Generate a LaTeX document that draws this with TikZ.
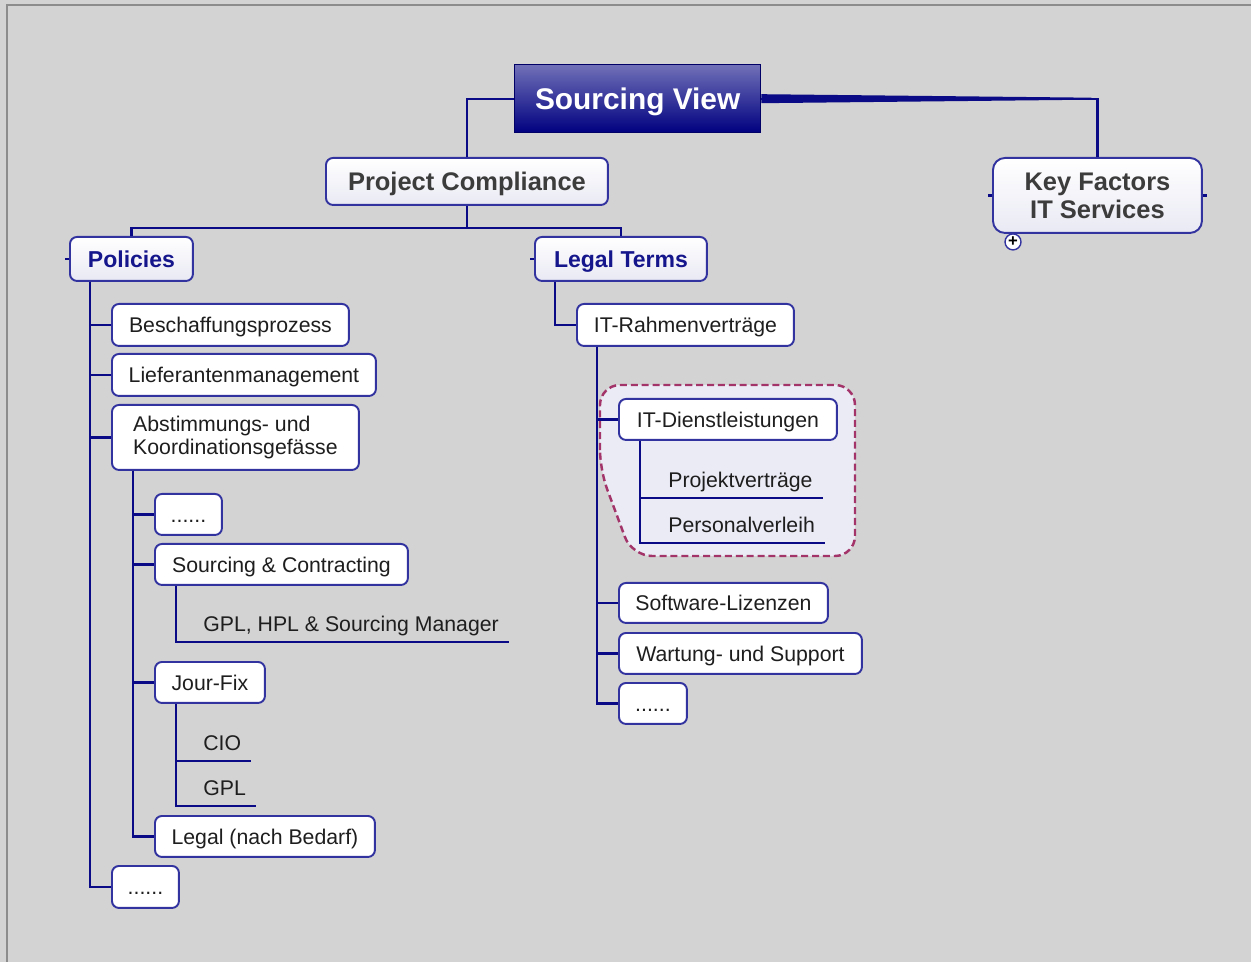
\documentclass[tikz,border=0pt]{standalone}
\usepackage{fontspec}
\setmainfont{Liberation Sans}
\definecolor{bggray}{HTML}{D3D3D3}
\definecolor{framegray}{HTML}{8C8C8C}
\definecolor{linenavy}{HTML}{0A0A86}
\definecolor{boxblue}{HTML}{3333A0}
\definecolor{boxfill}{HTML}{E9E9F4}
\definecolor{txtgray}{HTML}{1E1E1E}
\definecolor{titlegray}{HTML}{3C3C3C}
\definecolor{headnavy}{HTML}{16168C}
\definecolor{svtop}{HTML}{7070B8}
\definecolor{svnavy}{HTML}{000080}
\definecolor{grpline}{HTML}{A3346A}
\definecolor{grpfill}{HTML}{EBEBF5}
\begin{document}
\begin{tikzpicture}[x=0.02cm, y=-0.02cm,
		conn/.style={draw=linenavy, line width=1.6pt},
		midconn/.style={draw=linenavy, line width=1.2pt},
		thinconn/.style={draw=linenavy, line width=0.9pt},
		stub/.style={draw=linenavy, line width=1.2pt},
		oneline/.style={text height=#1, text depth=1pt},
		plainbox/.style={draw=boxblue, line width=1.1pt, rounded corners=0.14cm, fill=white,
			anchor=north west, inner sep=0pt, text=txtgray, font=\fontsize{12.1}{13}\selectfont},
		box/.style={plainbox, oneline=9.7pt},
		headbox/.style={plainbox, top color=white, bottom color=boxfill},
		titletext/.style={text=titlegray, font=\fontsize{14.5}{16}\selectfont\bfseries},
		subtext/.style={text=headnavy, oneline=10.4pt, font=\fontsize{13.1}{15}\selectfont\bfseries},
		svbox/.style={draw=svnavy!80!black, line width=0.8pt, top color=svtop, middle color=svnavy,
			bottom color=svnavy, anchor=north west, inner sep=0pt, text=white, oneline=13.2pt,
			font=\fontsize{17}{19}\selectfont\bfseries},
		leaf/.style={anchor=south west, inner xsep=0.2cm, inner ysep=0.1cm, text height=9pt,
			text depth=3pt, text=txtgray, font=\fontsize{12.1}{13}\selectfont},
		plusmark/.style={circle, draw=boxblue, line width=0.8pt, fill=white, inner sep=0pt,
			minimum size=0.32cm, font=\fontsize{9.5}{9.5}\selectfont\bfseries},
		grp/.style={draw=grpline, fill=grpfill, line width=1.4pt, dash pattern=on 4pt off 2.2pt,
			rounded corners=0.4cm}]
	% background and frame
	\useasboundingbox (0,0) rectangle (1251,962);
	\fill[bggray] (0,0) rectangle (1251,962);
	\draw[framegray, line width=0.9pt] (7,962) -- (7,5) -- (1251,5);
	% group round IT-Dienstleistungen
	\filldraw[grp] (600,470) -- (600,385) -- (855,385) -- (855,556) -- (632,556) -- cycle;
	% nodes
	\node[svbox, minimum width=4.92cm, minimum height=1.36cm] (sv) at (514,64) {Sourcing View};
	\node[headbox, titletext, oneline=11.4pt, minimum width=5.64cm, minimum height=0.94cm] (pc) at (325,157) {Project Compliance};
	\node[headbox, titletext, align=center, rounded corners=0.24cm, minimum width=4.18cm,
		minimum height=1.5cm] (kf) at (992,157) {Key Factors\\IT Services};
	\node[headbox, subtext, minimum width=2.46cm, minimum height=0.88cm] (pol) at (69,236) {Policies};
	\node[headbox, subtext, minimum width=3.44cm, minimum height=0.88cm] (lt) at (534,236) {Legal Terms};
	\node[plusmark] (kfplus) at ([shift={(21,8)}]kf.south west) {+};
	% policies
	\node[box, minimum width=4.74cm, minimum height=0.84cm] (besch) at (111,303) {Beschaffungsprozess};
	\node[box, minimum width=5.28cm, minimum height=0.84cm] (lief) at (111,353) {Lieferantenmanagement};
	\node[plainbox, align=left, minimum width=4.94cm, minimum height=1.3cm] (abst) at (111,404) {Abstimmungs- und\\Koordinationsgefässe};
	\node[box, minimum width=1.34cm, minimum height=0.84cm] (poldots) at (111,865) {......};
	\node[box, minimum width=1.34cm, minimum height=0.82cm] (abstdots) at (154,493) {......};
	\node[box, minimum width=5.06cm, minimum height=0.82cm] (sc) at (154,543) {Sourcing \& Contracting};
	\node[box, minimum width=2.2cm, minimum height=0.82cm] (jf) at (154,661) {Jour-Fix};
	\node[box, minimum width=4.4cm, minimum height=0.82cm] (legal) at (154,815) {Legal (nach Bedarf)};
	\node[leaf] (mgr) at (193,642) {GPL, HPL \& Sourcing Manager};
	\node[leaf] (cio) at (193,761) {CIO};
	\node[leaf] (gpl) at (193,806) {GPL};
	% legal terms
	\node[box, minimum width=4.34cm, minimum height=0.84cm] (itr) at (576,303) {IT-Rahmenverträge};
	\node[box, minimum width=4.36cm, minimum height=0.82cm] (itd) at (618,398) {IT-Dienstleistungen};
	\node[leaf] (projv) at (658,498) {Projektverträge};
	\node[leaf] (persv) at (658,543) {Personalverleih};
	\node[box, minimum width=4.18cm, minimum height=0.8cm] (swl) at (618,582) {Software-Lizenzen};
	\node[box, minimum width=4.86cm, minimum height=0.82cm] (ws) at (618,632) {Wartung- und Support};
	\node[box, minimum width=1.36cm, minimum height=0.82cm] (itrdots) at (618,682) {......};
	% connectors
	\draw[midconn] (sv.west) -| (pc.north);
	\draw[midconn] (sv.east) -| (kf.north);
	\fill[linenavy] (sv.east) ++(0,-4.5) -- ++(330,3.5) -- ++(0,2) -- ++(-330,3.5) -- cycle;
	\draw[conn] (pc.south) -- ++(0,22) -| (pol.north);
	\draw[conn] (pc.south) -- ++(0,22) -| (lt.north);
	\foreach \kid in {besch, lief, abst, poldots}
		\draw[conn] (pol.south west) ++(21,0) |- (\kid.west);
	\foreach \kid in {abstdots, sc, jf, legal}
		\draw[conn] (abst.south west) ++(22,0) |- (\kid.west);
	\draw[thinconn] (sc.south west) ++(22,0) |- (mgr.south east);
	\draw[thinconn] (jf.south west) ++(22,0) |- (cio.south east);
	\draw[thinconn] (jf.south west) ++(22,0) |- (gpl.south east);
	\draw[conn] (lt.south west) ++(21,0) |- (itr.west);
	\foreach \kid in {itd, swl, ws, itrdots}
		\draw[midconn] (itr.south west) ++(21,0) |- (\kid.west);
	\draw[thinconn] (itd.south west) ++(22,0) |- (projv.south east);
	\draw[thinconn] (itd.south west) ++(22,0) |- (persv.south east);
	% stubs
	\draw[stub] (pol.west) -- ++(-4,0);
	\draw[stub] (lt.west) -- ++(-4,0);
	\draw[stub] (kf.west) -- ++(-4,0);
	\draw[stub] (kf.east) -- ++(4,0);
\end{tikzpicture}
\end{document}
